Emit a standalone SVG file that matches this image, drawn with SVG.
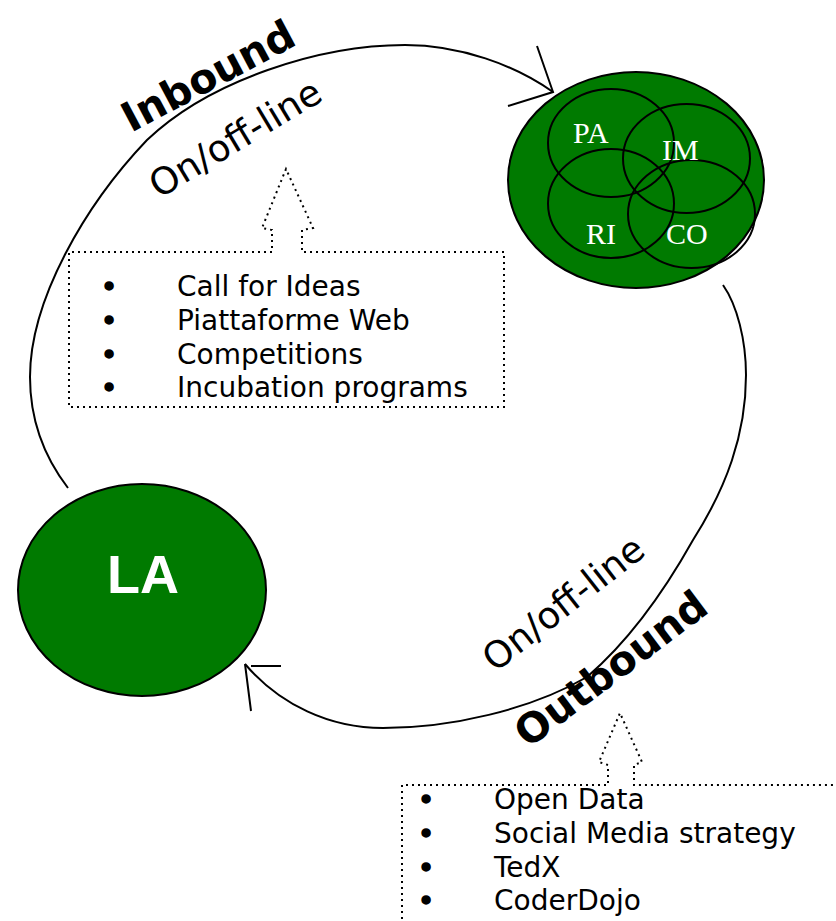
<svg xmlns="http://www.w3.org/2000/svg" width="836" height="921" viewBox="0 0 836 921">
<style>
.arc{fill:none;stroke:#000;stroke-width:2}
.dot{fill:none;stroke:#000;stroke-width:2;stroke-dasharray:2 4}
.gr{fill:#007A00;stroke:#000;stroke-width:2}
.in{fill:none;stroke:#000;stroke-width:2}
.ser{font-family:'Liberation Serif','Times New Roman',serif;font-size:30px;fill:#fff}
.lst{font-family:'DejaVu Sans',Verdana,sans-serif;font-size:28px;fill:#000}
.bul{font-family:'Liberation Sans',Arial,sans-serif;font-size:29px;fill:#000;stroke:#000;stroke-width:1.6;text-anchor:middle}
.lab{font-family:'DejaVu Sans',Verdana,sans-serif;font-size:37px;fill:#000}
.bold{font-weight:bold;font-size:41px}
</style>
<rect width="836" height="921" fill="#fff"/>
<g id="connectors">
<path class="arc" d="M68,488 C45,458 30,420 30,377 C30,300 85,205 147,140 C210,80 320,45 405,45 C460,45 515,65 553,92"/>
<path class="arc" d="M537,46 L553,92 L508,106"/>
<path class="arc" d="M723,285 C737,305 746,340 746,375 C746,435 726,488 693,540 C665,590 630,640 587,677 C530,710 450,728 383,728 C330,728 280,705 245,664"/>
<path class="arc" d="M245,664 L251,711 M251,666 L281,666"/>
</g>
<g id="node-cluster">
<ellipse class="gr" cx="636" cy="180" rx="128" ry="108"/>
<ellipse class="in" cx="611" cy="143" rx="63" ry="54"/>
<ellipse class="in" cx="686.5" cy="158.5" rx="63.5" ry="54.5"/>
<ellipse class="in" cx="611" cy="203.5" rx="63" ry="54.5"/>
<ellipse class="in" cx="691.5" cy="214" rx="63.5" ry="54"/>
<text class="ser" x="573" y="143">PA</text>
<text class="ser" x="662" y="160">IM</text>
<text class="ser" x="586" y="244">RI</text>
<text class="ser" x="666" y="244">CO</text>
</g>
<g id="node-la">
<ellipse class="gr" cx="142" cy="590" rx="124" ry="106"/>
<text x="107" y="593" style="font-family:'Liberation Sans',Arial,sans-serif;font-size:54px;font-weight:bold;fill:#fff">LA</text>
</g>
<g id="label-inbound">
<text class="lab bold" transform="translate(131,133) rotate(-28)">Inbound</text>
<text class="lab" transform="translate(159,199) rotate(-31)">On/off-line</text>
</g>
<g id="label-outbound">
<text class="lab" transform="translate(495,673) rotate(-38)">On/off-line</text>
<text class="lab bold" transform="translate(528,749) rotate(-37)">Outbound</text>
</g>
<g id="list-inbound">
<path class="dot" d="M272,252 H69 V407 H504 V252 H302 V230 L313,228 L286,169 L262,228 L272,230 Z"/>
<text class="bul" x="109" y="296">•</text>
<text class="bul" x="109" y="330">•</text>
<text class="bul" x="109" y="364">•</text>
<text class="bul" x="109" y="397">•</text>
<text class="lst" x="177" y="296">Call for Ideas</text>
<text class="lst" x="177" y="330">Piattaforme Web</text>
<text class="lst" x="177" y="364">Competitions</text>
<text class="lst" x="177" y="397">Incubation programs</text>
</g>
<g id="list-outbound">
<path class="dot" d="M402,925 V785 H608 V765 L599,762 L620,713 L642,762 L634,765 V785 H840"/>
<text class="bul" x="426" y="809">•</text>
<text class="bul" x="426" y="843">•</text>
<text class="bul" x="426" y="877">•</text>
<text class="bul" x="426" y="910">•</text>
<text class="lst" x="494" y="809">Open Data</text>
<text class="lst" x="494" y="843">Social Media strategy</text>
<text class="lst" x="494" y="877">TedX</text>
<text class="lst" x="494" y="910">CoderDojo</text>
</g>
</svg>
